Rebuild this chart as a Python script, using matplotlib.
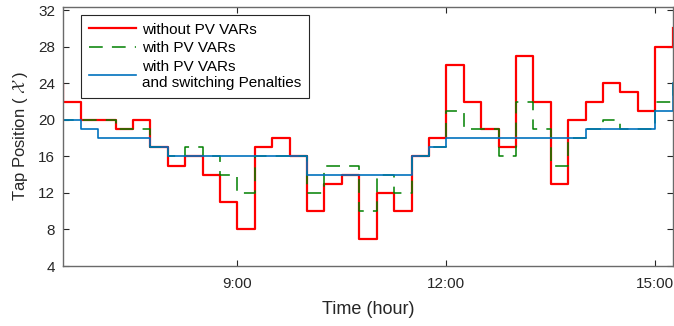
import numpy as np
import matplotlib
matplotlib.use("Agg")
import matplotlib.pyplot as plt

plt.rcParams['font.family'] = ['Liberation Sans', 'DejaVu Sans']
plt.rcParams['mathtext.fontset'] = 'cm'

# time in hours, 15-minute steps from 6:15 to 15:15
t = np.arange(6.25, 15.26, 0.25)

# tap positions (one value per 15-min interval, stairs style)
no_var = [24, 22, 20, 20, 19, 20, 17, 15, 16, 14, 11, 8, 17, 18, 16, 10, 13, 14, 7,
          12, 10, 16, 18, 26, 22, 19, 17, 27, 22, 13, 20, 22, 24, 23, 21, 28, 30]
with_var = [21, 20, 20, 20, 19, 19, 17, 16, 17, 16, 14, 12, 16, 16, 16, 12, 15, 15, 10,
            14, 12, 16, 17, 21, 19, 19, 16, 22, 19, 15, 18, 19, 20, 19, 19, 22, 24]
with_var_pen = [21, 20, 19, 18, 18, 18, 17, 16, 16, 16, 16, 16, 16, 16, 16, 14, 14, 14, 14,
                14, 14, 16, 17, 18, 18, 18, 18, 18, 18, 18, 18, 19, 19, 19, 19, 21, 24]

labels = ["without PV VARs", "with PV VARs", "with PV VARs\nand switching Penalties"]
xticks = [9, 12, 15]
xticklabels = ["9:00", "12:00", "15:00"]
yticks = [4, 8, 12, 16, 20, 24, 28, 32]

fig = plt.figure(figsize=(6.74, 3.26), dpi=100)
ax = fig.add_axes([0.094, 0.184, 0.904, 0.796])

ax.step(t, no_var, where='post', color='#ff0000', lw=1.6, label=labels[0])
ax.step(t, with_var, where='post', color='#008000', lw=1.1,
        linestyle=(0, (9, 6)), label=labels[1])
ax.step(t, with_var_pen, where='post', color='#0072bd', lw=1.2, label=labels[2])

ax.set_xlim(6.5, 15.25)
ax.set_ylim(4, 32.4)
ax.set_xticks(xticks)
ax.set_xticklabels(xticklabels)
ax.set_yticks(yticks)

for s in ax.spines.values():
    s.set_color('#6a6a6a')
    s.set_linewidth(1.0)
ax.tick_params(direction='in', length=4.5, width=0.8, colors='#262626',
               labelsize=11, top=True, right=True)
ax.tick_params(axis='x', pad=8)
ax.tick_params(axis='y', pad=6)

ax.set_xlabel("Time (hour)", fontsize=13, color='#262626', labelpad=7)
ax.set_ylabel(r"Tap Position ( $\mathcal{X}$ )", fontsize=12, color='#262626', labelpad=6)

leg = ax.legend(loc='upper left', bbox_to_anchor=(0.029, 0.967), borderaxespad=0,
                fontsize=11, handlelength=3.1, handletextpad=0.4, labelspacing=0.3,
                fancybox=False, framealpha=1, edgecolor='#262626', borderpad=0.5)
leg.get_frame().set_linewidth(0.8)

plt.savefig("out.png", dpi=100)
